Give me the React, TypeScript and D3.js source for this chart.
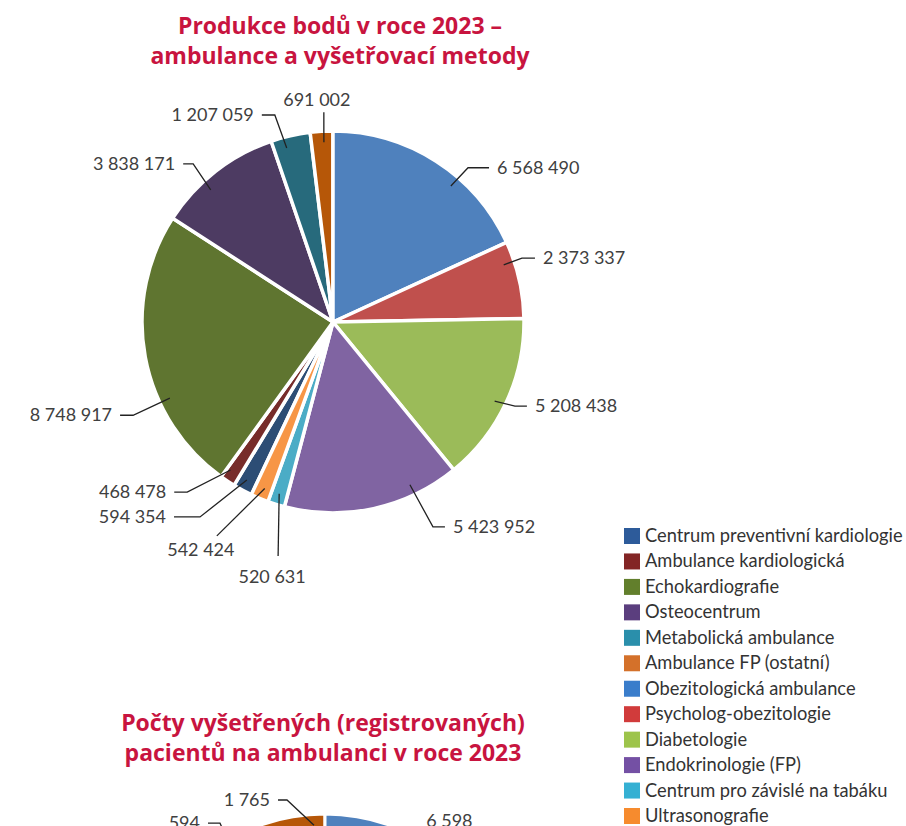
import React from "react";
import * as d3 from "d3";

// --- data: Produkce bodů v roce 2023 (legend order) ---
const categories = [
  "Centrum preventivní kardiologie",
  "Ambulance kardiologická",
  "Echokardiografie",
  "Osteocentrum",
  "Metabolická ambulance",
  "Ambulance FP (ostatní)",
  "Obezitologická ambulance",
  "Psycholog-obezitologie",
  "Diabetologie",
  "Endokrinologie (FP)",
  "Centrum pro závislé na tabáku",
  "Ultrasonografie",
];
const pointValues = [
  594354, 468478, 8748917, 3838171, 1207059, 691002,
  6568490, 2373337, 5208438, 5423952, 520631, 542424,
];
const sliceColors = [
  "#2C4D75", "#772C2A", "#5F7530", "#4D3B62", "#276A7C", "#B65708",
  "#4F81BD", "#C0504D", "#9BBB59", "#8064A2", "#4BACC6", "#F79646",
];
const legendColors = [
  "#2D5B9A", "#832525", "#627F2C", "#5B3E7E", "#2A8FAB", "#D4712A",
  "#3A7DCB", "#D13B3B", "#9DC44B", "#7450A4", "#35B0D3", "#F68B2E",
];

// --- data: Počty vyšetřených pacientů (only the top of this chart is on the page) ---
const patientCategories = ["Metabolická ambulance", "Ambulance FP (ostatní)", "Obezitologická ambulance"];
const patientValues = [594, 1765, 6598];
const patientColors = ["#276A7C", "#B65708", "#4F81BD"];
const patientTotalEstimate = 24000;

const titleTop = ["Produkce bodů v roce 2023 –", "ambulance a vyšetřovací metody"];
const titleBottom = ["Počty vyšetřených (registrovaných)", "pacientů na ambulanci v roce 2023"];

const W = 906;
const H = 826;
const FONT = "Lato, 'Open Sans', sans-serif";
const TITLE_FONT = "'Open Sans', Lato, sans-serif";
const LABEL_COLOR = "#404040";
const LINE_COLOR = "#222";
const TITLE_COLOR = "#C8143F";

const fmt = d3.formatLocale({ decimal: ",", thousands: " ", grouping: [3], currency: ["", ""] }).format(",d");

type Mode = "left" | "right" | "up" | "down";
type Layout = { a: number; ea: number; er: number; hook: number; mode: Mode; dx?: number; dy?: number };

// label layout for the top pie (angles in degrees clockwise from 12 o'clock, radii in px)
const labelLayout: Layout[] = [
  { a: 208.6, ea: 214.3, er: 236, hook: -26, mode: "left" },
  { a: 214.7, ea: 220.6, er: 224, hook: -13, mode: "left" },
  { a: 245, ea: 245, er: 220.6, hook: -13, mode: "left" },
  { a: 317.2, ea: 318.5, er: 211, hook: -10, mode: "left" },
  { a: 345.1, ea: 344.3, er: 215, hook: -13, mode: "left" },
  { a: 357.1, ea: 357.5, er: 210, hook: 0, mode: "up", dx: -7, dy: -6 },
  { a: 40.9, ea: 41.2, er: 205, hook: 21, mode: "right" },
  { a: 71.5, ea: 71.3, er: 199.5, hook: 13, mode: "right" },
  { a: 116.1, ea: 114.8, er: 200.4, hook: 12, mode: "right" },
  { a: 154.7, ea: 154, er: 228, hook: 12, mode: "right" },
  { a: 197.4, ea: 193.2, er: 240.4, hook: 0, mode: "down", dx: -6, dy: 27 },
  { a: 202.3, ea: 208.5, er: 243.4, hook: 0, mode: "down", dx: -16, dy: 20 },
];

const patientLabelLayout: Layout[] = [
  { a: -31, ea: -30, er: 210, hook: -12, mode: "left" },
  { a: -3.5, ea: -10.5, er: 208.5, hook: -9, mode: "left", dy: 6 },
  { a: 35, ea: 25, er: 192, hook: 12, mode: "right", dy: -4 },
];

const polar = (cx: number, cy: number, deg: number, r: number): [number, number] => {
  const t = (deg * Math.PI) / 180;
  return [cx + r * Math.sin(t), cy - r * Math.cos(t)];
};

function Labels({ cx, cy, values, layout }: { cx: number; cy: number; values: number[]; layout: Layout[] }) {
  return (
    <g>
      {values.map((v, i) => {
        const l = layout[i];
        const [ax, ay] = polar(cx, cy, l.a, 180);
        const [ex, ey] = polar(cx, cy, l.ea, l.er);
        const hx = ex + l.hook;
        let tx = hx, ty = ey + (l.dy ?? 6), anchor = "middle";
        if (l.mode === "right") { tx = hx + 8; anchor = "start"; }
        if (l.mode === "left") { tx = hx - 8; anchor = "end"; }
        if (l.mode === "up" || l.mode === "down") { tx = ex + (l.dx ?? 0); }
        return (
          <g key={i}>
            <polyline points={`${ax},${ay} ${ex},${ey} ${hx},${ey}`} fill="none" stroke={LINE_COLOR} strokeWidth={1.3} />
            <text x={tx} y={ty} textAnchor={anchor} fontSize={18} fill={LABEL_COLOR} fontFamily={FONT}>
              {fmt(v)}
            </text>
          </g>
        );
      })}
    </g>
  );
}

function Title({ lines, x, y }: { lines: string[]; x: number; y: number }) {
  return (
    <text x={x} y={y} textAnchor="middle" fontFamily={TITLE_FONT} fontWeight={700} fontSize={23} fill={TITLE_COLOR}>
      {lines.map((s, i) => (
        <tspan key={i} x={x} dy={i === 0 ? 0 : 30}>{s}</tspan>
      ))}
    </text>
  );
}

export default function App() {
  // top pie: the Obezitologická slice starts at 12 o'clock
  const cx = 333, cy = 322, R = 191;
  const total = d3.sum(pointValues);
  const first = categories.indexOf("Obezitologická ambulance");
  const offset = (-2 * Math.PI * d3.sum(pointValues.slice(0, first))) / total;
  const arcs = d3.pie<number>().sort(null).startAngle(offset).endAngle(offset + 2 * Math.PI)(pointValues);
  const arcGen = d3.arc<d3.PieArcDatum<number>>().innerRadius(0).outerRadius(R);

  // bottom pie (cut off by the page)
  const px = 325, py = 1005, PR = 191;
  const angle = d3.scaleLinear().domain([0, patientTotalEstimate]).range([0, 2 * Math.PI]);
  const pOffset = -angle(d3.sum(patientValues.slice(0, 2)));
  const pArcs = d3.pie<number>().sort(null).startAngle(pOffset).endAngle(pOffset + angle(d3.sum(patientValues)))(patientValues);
  const pArcGen = d3.arc<d3.PieArcDatum<number>>().innerRadius(0).outerRadius(PR);

  // legend
  const legendY = d3.scalePoint<string>().domain(categories).range([536, 816]);

  return (
    <svg width={W} height={H} style={{ position: "absolute", left: 0, top: 0, background: "#fff" }}>
      <Title lines={titleTop} x={340} y={34} />
      <g>
        {arcs.map((a, i) => (
          <path key={categories[i]} transform={`translate(${cx},${cy})`} d={arcGen(a) ?? ""} fill={sliceColors[i]} stroke="#fff" strokeWidth={3.5} strokeLinejoin="round" />
        ))}
      </g>
      <Labels cx={cx} cy={cy} values={pointValues} layout={labelLayout} />

      <g>
        {categories.map((c, i) => (
          <g key={c} transform={`translate(624,${legendY(c)})`}>
            <rect x={0} y={-8} width={16} height={16} fill={legendColors[i]} />
            <text x={21} y={6} fontSize={18.3} fill="#333" fontFamily={FONT}>{c}</text>
          </g>
        ))}
      </g>

      <Title lines={titleBottom} x={323} y={731} />
      <g>
        {pArcs.map((a, i) => (
          <path key={patientCategories[i]} transform={`translate(${px},${py})`} d={pArcGen(a) ?? ""} fill={patientColors[i]} stroke="#fff" strokeWidth={3} />
        ))}
      </g>
      <Labels cx={px} cy={py} values={patientValues} layout={patientLabelLayout} />
    </svg>
  );
}
